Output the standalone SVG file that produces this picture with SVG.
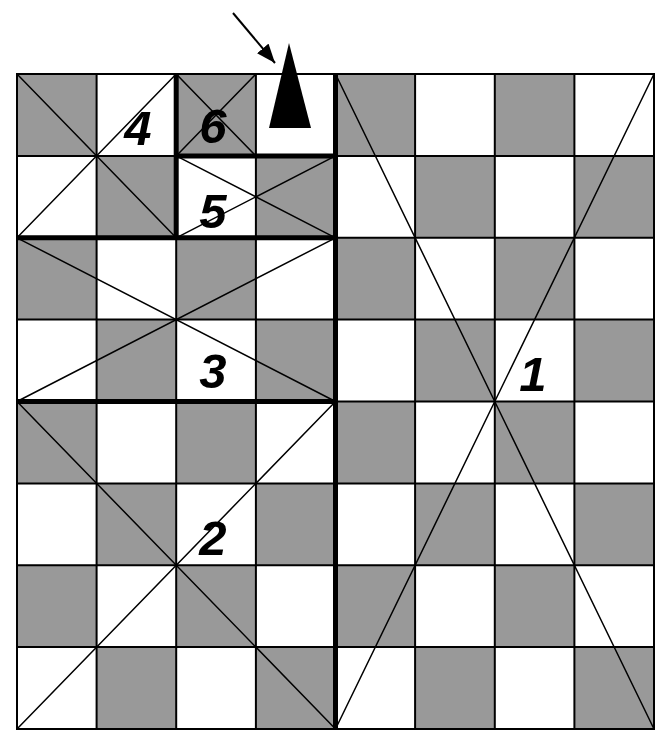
<svg xmlns="http://www.w3.org/2000/svg" width="656" height="733" viewBox="0 0 656 733">
<defs>
<style>
.g{fill:#999999}
.grid{stroke:#000;stroke-width:2;fill:none}
.diag{stroke:#000;stroke-width:1.5;fill:none}
.thick{stroke:#000;stroke-width:5;fill:none}
.num{font-family:"Liberation Sans",Arial,sans-serif;font-weight:bold;font-style:italic;font-size:49px;fill:#000;text-anchor:middle}
</style>
<marker id="ah" markerWidth="19" markerHeight="15" refX="19" refY="7.5" orient="auto" markerUnits="userSpaceOnUse" viewBox="0 0 19 15">
<path d="M0,0 L19,7.5 L0,15 z" fill="#000"/>
</marker>
</defs>
<rect width="656" height="733" fill="#fff"/>
<g id="board">
<rect x="17" y="74" width="637" height="655" fill="#fff"/>
<g id="cells">
<rect class="g" x="17" y="74" width="79.6" height="81.9"/>
<rect class="g" x="176.2" y="74" width="79.7" height="81.9"/>
<rect class="g" x="335.5" y="74" width="79.6" height="81.9"/>
<rect class="g" x="494.8" y="74" width="79.6" height="81.9"/>
<rect class="g" x="96.6" y="155.9" width="79.6" height="81.9"/>
<rect class="g" x="255.9" y="155.9" width="79.6" height="81.9"/>
<rect class="g" x="415.1" y="155.9" width="79.7" height="81.9"/>
<rect class="g" x="574.4" y="155.9" width="79.6" height="81.9"/>
<rect class="g" x="17" y="237.8" width="79.6" height="81.8"/>
<rect class="g" x="176.2" y="237.8" width="79.7" height="81.8"/>
<rect class="g" x="335.5" y="237.8" width="79.6" height="81.8"/>
<rect class="g" x="494.8" y="237.8" width="79.6" height="81.8"/>
<rect class="g" x="96.6" y="319.6" width="79.6" height="81.9"/>
<rect class="g" x="255.9" y="319.6" width="79.6" height="81.9"/>
<rect class="g" x="415.1" y="319.6" width="79.7" height="81.9"/>
<rect class="g" x="574.4" y="319.6" width="79.6" height="81.9"/>
<rect class="g" x="17" y="401.5" width="79.6" height="81.9"/>
<rect class="g" x="176.2" y="401.5" width="79.7" height="81.9"/>
<rect class="g" x="335.5" y="401.5" width="79.6" height="81.9"/>
<rect class="g" x="494.8" y="401.5" width="79.6" height="81.9"/>
<rect class="g" x="96.6" y="483.4" width="79.6" height="81.9"/>
<rect class="g" x="255.9" y="483.4" width="79.6" height="81.9"/>
<rect class="g" x="415.1" y="483.4" width="79.7" height="81.9"/>
<rect class="g" x="574.4" y="483.4" width="79.6" height="81.9"/>
<rect class="g" x="17" y="565.3" width="79.6" height="81.8"/>
<rect class="g" x="176.2" y="565.3" width="79.7" height="81.8"/>
<rect class="g" x="335.5" y="565.3" width="79.6" height="81.8"/>
<rect class="g" x="494.8" y="565.3" width="79.6" height="81.8"/>
<rect class="g" x="96.6" y="647.1" width="79.6" height="81.9"/>
<rect class="g" x="255.9" y="647.1" width="79.6" height="81.9"/>
<rect class="g" x="415.1" y="647.1" width="79.7" height="81.9"/>
<rect class="g" x="574.4" y="647.1" width="79.6" height="81.9"/>
</g>
<g id="grid" class="grid">
<rect x="17" y="74" width="637" height="655"/>
<path d="M96.6,74V729M176.2,74V729M255.9,74V729M335.5,74V729M415.1,74V729M494.8,74V729M574.4,74V729"/>
<path d="M17,155.9H654M17,237.8H654M17,319.6H654M17,401.5H654M17,483.4H654M17,565.3H654M17,647.1H654"/>
</g>
</g>
<g id="region1" class="diag">
<path d="M335.5,74L654,729M654,74L335.5,729"/>
</g>
<g id="region2" class="diag">
<path d="M17,401.5L335.5,729M335.5,401.5L17,729"/>
</g>
<g id="region3" class="diag">
<path d="M17,237.8L335.5,401.5M335.5,237.8L17,401.5"/>
</g>
<g id="region4" class="diag">
<path d="M17,74L176.2,237.8M176.2,74L17,237.8"/>
</g>
<g id="region5" class="diag">
<path d="M176.2,155.9L335.5,237.8M335.5,155.9L176.2,237.8"/>
</g>
<g id="region6" class="diag">
<path d="M176.2,74L255.9,155.9M255.9,74L176.2,155.9"/>
</g>
<g id="borders" class="thick">
<path d="M335.5,74V729"/>
<path d="M17,237.8H335.5M17,401.5H335.5"/>
<path d="M176.2,74V237.8M176.2,155.9H335.5"/>
</g>
<g id="labels">
<text class="num" x="138" y="145">4</text>
<text class="num" x="213" y="143">6</text>
<text class="num" x="213" y="228">5</text>
<text class="num" x="213" y="388">3</text>
<text class="num" x="213" y="555">2</text>
<text class="num" x="533" y="391">1</text>
</g>
<g id="piece">
<polygon points="289,43 311,128 269,128" fill="#000"/>
</g>
<g id="connectors">
<line x1="233" y1="13" x2="275" y2="63" stroke="#000" stroke-width="2" marker-end="url(#ah)"/>
</g>
</svg>
